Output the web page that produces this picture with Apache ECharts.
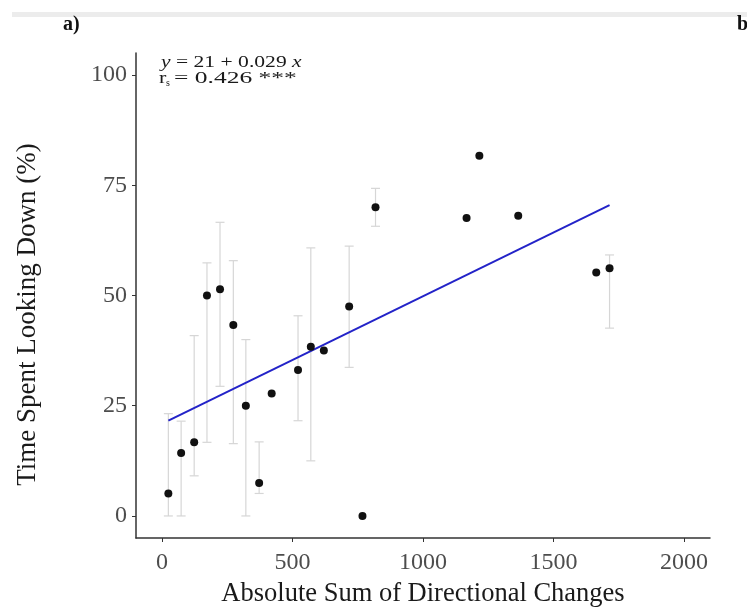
<!DOCTYPE html>
<html>
<head>
<meta charset="utf-8">
<script src="https://cdn.jsdelivr.net/npm/echarts@6/dist/echarts.min.js"></script>
<style>
  html, body { margin: 0; padding: 0; background: #fff; }
  #chart { width: 747px; height: 610px; }
</style>
</head>
<body>
<div id="chart"></div>
<script>
// directional changes (x) vs % time looking down (y)
const sumChanges = [24, 73, 123, 172, 222, 273, 321, 372, 420, 521, 570, 620, 717, 768, 818, 1216, 1167, 1365, 1664, 1715]
const lookDown = [5.1, 14.3, 16.7, 50.0, 51.4, 43.3, 25.0, 7.5, 27.8, 33.1, 38.4, 37.5, 47.5, 0, 70.0, 81.7, 67.6, 68.1, 55.2, 56.2]
// error bars (null = none drawn)
const errLow = [0, 0, 9.1, 16.7, 29.4, 16.4, 0, 5.1, null, 21.6, 12.5, null, 33.7, null, 65.7, null, null, null, null, 42.6]
const errHigh = [23.2, 21.5, 40.9, 57.4, 66.6, 57.9, 40.0, 16.8, null, 45.4, 60.8, null, 61.2, null, 74.3, null, null, null, null, 59.2]
// fitted line y = 21 + 0.029x, endpoints as drawn
const fitX = [24, 1715]
const fitY = [21.6, 70.5]
const xTicks = [0, 500, 1000, 1500, 2000]
const yTicks = [0, 25, 50, 75, 100]

const serif = '"Liberation Serif", "DejaVu Serif", serif'

const points = sumChanges.map((x, i) => [x, lookDown[i]])
const bars = []
sumChanges.forEach((x, i) => {
  if (errLow[i] !== null) bars.push([x, errLow[i], errHigh[i]])
})

const chart = echarts.init(document.getElementById('chart'))

chart.setOption({
  animation: false,
  backgroundColor: '#fff',
  grid: { left: 136, right: 37, top: 53, bottom: 72, outerBoundsMode: 'none' },
  xAxis: {
    type: 'value',
    min: -100,
    max: 2100,
    splitLine: { show: false },
    axisLine: { onZero: false, lineStyle: { color: '#333', width: 1.5 } },
    axisTick: { length: 4, lineStyle: { color: '#333' }, customValues: xTicks },
    axisLabel: {
      customValues: xTicks,
      formatter: v => String(v),
      color: '#4d4d4d',
      fontFamily: serif,
      fontSize: 24,
      margin: 13
    },
    name: 'Absolute Sum of Directional Changes',
    nameLocation: 'middle',
    nameGap: 43,
    nameTextStyle: { color: '#1a1a1a', fontFamily: serif, fontSize: 26.5 }
  },
  yAxis: {
    type: 'value',
    min: -5,
    max: 105,
    splitLine: { show: false },
    axisLine: { onZero: false, lineStyle: { color: '#333', width: 1.5 } },
    axisTick: { length: 4, lineStyle: { color: '#333' }, customValues: yTicks },
    axisLabel: {
      customValues: yTicks,
      color: '#4d4d4d',
      fontFamily: serif,
      fontSize: 24,
      margin: 9
    },
    name: 'Time Spent Looking Down (%)',
    nameLocation: 'middle',
    nameGap: 95,
    nameTextStyle: { color: '#1a1a1a', fontFamily: serif, fontSize: 27, padding: [0, 38, 0, 0] }
  },
  graphic: [
    { type: 'rect', shape: { x: 12, y: 12, width: 735, height: 5 }, style: { fill: '#ececec' } },
    { type: 'text', left: 63, top: 15, style: { text: 'a)', font: 'bold 20px ' + serif, fill: '#111' } },
    { type: 'text', left: 737, top: 15, style: { text: 'b', font: 'bold 20px ' + serif, fill: '#111' } },
    {
      type: 'text', x: 161, y: 54, scaleX: 1.27,
      style: {
        text: '{i|y} = 21 + 0.029 {i|x}',
        fill: '#1a1a1a',
        font: '17px ' + serif,
        rich: { i: { fontStyle: 'italic', fontFamily: serif, fontSize: 17 } }
      }
    },
    { type: 'text', x: 159, y: 70, scaleX: 1.3, style: { text: 'r', font: '17px ' + serif, fill: '#1a1a1a' } },
    { type: 'text', x: 166, y: 78, style: { text: 's', font: '10px ' + serif, fill: '#1a1a1a' } },
    { type: 'text', x: 174, y: 70, scaleX: 1.5, style: { text: '= 0.426 ***', font: '17px ' + serif, fill: '#1a1a1a' } }
  ],
  series: [
    {
      type: 'custom',
      data: bars,
      z: 1,
      renderItem (params, api) {
        const x = api.value(0)
        const lo = api.coord([x, api.value(1)])
        const hi = api.coord([x, api.value(2)])
        const w = 4.5
        const st = { stroke: '#d6d6d6', lineWidth: 1.2 }
        return {
          type: 'group',
          children: [
            { type: 'line', shape: { x1: lo[0], y1: lo[1], x2: hi[0], y2: hi[1] }, style: st },
            { type: 'line', shape: { x1: lo[0] - w, y1: lo[1], x2: lo[0] + w, y2: lo[1] }, style: st },
            { type: 'line', shape: { x1: hi[0] - w, y1: hi[1], x2: hi[0] + w, y2: hi[1] }, style: st }
          ]
        }
      }
    },
    {
      type: 'line',
      data: fitX.map((x, i) => [x, fitY[i]]),
      symbol: 'none',
      z: 2,
      lineStyle: { color: '#2323c8', width: 2 }
    },
    {
      type: 'scatter',
      data: points,
      symbolSize: 8,
      z: 3,
      itemStyle: { color: '#111', opacity: 1 }
    }
  ]
})
</script>
</body>
</html>
